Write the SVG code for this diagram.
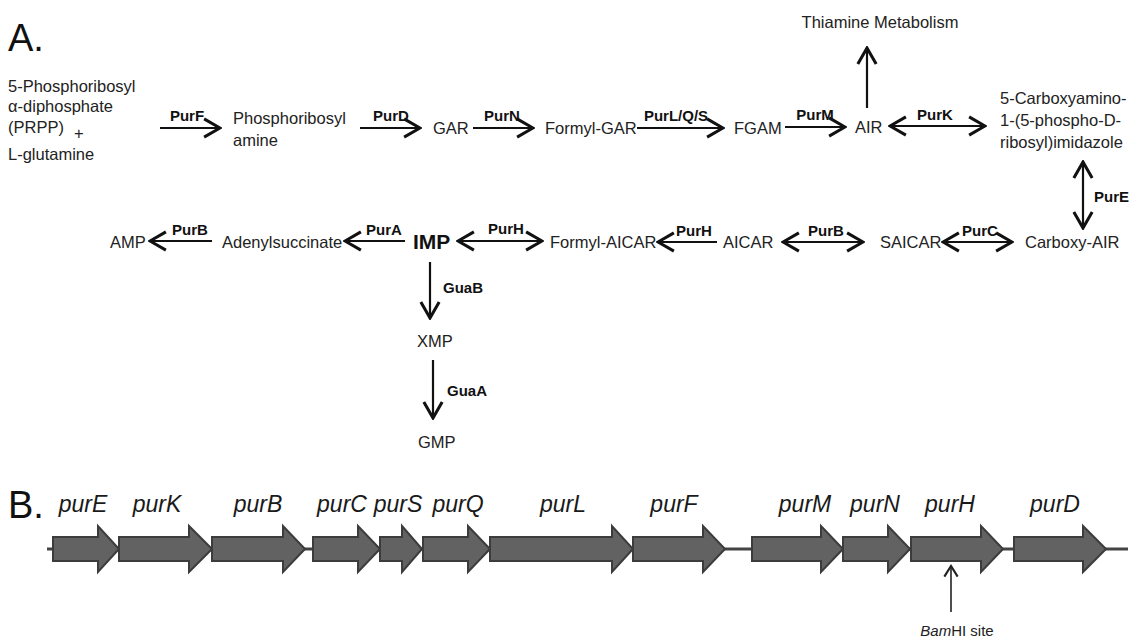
<svg xmlns="http://www.w3.org/2000/svg" width="1138" height="641" viewBox="0 0 1138 641">
<defs>
<marker id="ah" markerUnits="userSpaceOnUse" markerWidth="22" markerHeight="22" viewBox="-16 -9 18 18" refX="0" refY="0" orient="auto-start-reverse">
<path d="M-13,-7.5 L0,0 L-13,7.5" fill="none" stroke="#111" stroke-width="2.5" stroke-linejoin="miter"/>
</marker>
<marker id="ahs" markerUnits="userSpaceOnUse" markerWidth="16" markerHeight="16" viewBox="-10 -6 12 12" refX="0" refY="0" orient="auto">
<path d="M-8,-5 L0,0 L-8,5" fill="none" stroke="#222" stroke-width="1.6"/>
</marker>
</defs>
<style>
.m{font-family:"Liberation Sans",Arial,sans-serif;font-size:16.5px;fill:#222}
.e{font-family:"Liberation Sans",Arial,sans-serif;font-size:15px;font-weight:bold;fill:#111}
.big{font-family:"Liberation Sans",Arial,sans-serif;font-size:38px;fill:#111}
.g{font-family:"Liberation Sans",Arial,sans-serif;font-size:23px;font-style:italic;fill:#1a1a1a}
.a{fill:none;stroke:#111;stroke-width:2.2;marker-end:url(#ah)}
.d{fill:none;stroke:#111;stroke-width:2.2;marker-end:url(#ah);marker-start:url(#ah)}
.gene{fill:#626262;stroke:#3c3c3c;stroke-width:2;stroke-linejoin:miter}
</style>
<rect width="1138" height="641" fill="#fff"/>
<text class="big" x="8" y="51">A.</text>
<text class="big" x="8" y="518">B.</text>

<g id="connectors">
<line class="a" x1="160" y1="128" x2="220" y2="128"/>
<line class="a" x1="360" y1="128" x2="420" y2="128"/>
<line class="a" x1="473" y1="128" x2="533" y2="128"/>
<line class="a" x1="637" y1="128" x2="723" y2="128"/>
<line class="a" x1="785" y1="127" x2="845" y2="127"/>
<line class="d" x1="890" y1="126" x2="985" y2="126"/>
<line class="a" x1="867" y1="108" x2="867" y2="48"/>
<line class="d" x1="1083" y1="162" x2="1083" y2="228"/>
<line class="a" x1="212" y1="241" x2="150" y2="241"/>
<line class="a" x1="405" y1="241" x2="345" y2="241"/>
<line class="d" x1="458" y1="241" x2="542" y2="241"/>
<line class="a" x1="717" y1="242" x2="658" y2="242"/>
<line class="d" x1="783" y1="242" x2="863" y2="242"/>
<line class="d" x1="943" y1="242" x2="1012" y2="242"/>
<line class="a" x1="430" y1="262" x2="430" y2="318"/>
<line class="a" x1="433" y1="360" x2="433" y2="418"/>
<text class="e" x="187" y="121" text-anchor="middle">PurF</text>
<text class="e" x="391" y="121" text-anchor="middle">PurD</text>
<text class="e" x="502" y="121" text-anchor="middle">PurN</text>
<text class="e" x="676" y="121" text-anchor="middle">PurL/Q/S</text>
<text class="e" x="815" y="120" text-anchor="middle">PurM</text>
<text class="e" x="935" y="120" text-anchor="middle">PurK</text>
<text class="e" x="1094" y="202">PurE</text>
<text class="e" x="190" y="235" text-anchor="middle">PurB</text>
<text class="e" x="384" y="235" text-anchor="middle">PurA</text>
<text class="e" x="506" y="234" text-anchor="middle">PurH</text>
<text class="e" x="694" y="236" text-anchor="middle">PurH</text>
<text class="e" x="826" y="236" text-anchor="middle">PurB</text>
<text class="e" x="980" y="236" text-anchor="middle">PurC</text>
<text class="e" x="443" y="293">GuaB</text>
<text class="e" x="447" y="396">GuaA</text>
</g>

<g id="prpp"><text class="m" x="8" y="92">5-Phosphoribosyl</text><text class="m" x="8" y="112">α-diphosphate</text><text class="m" x="8" y="133">(PRPP)</text><text class="m" x="74" y="139">+</text><text class="m" x="8" y="160">L-glutamine</text></g>
<g id="pra"><text class="m" x="233" y="124">Phosphoribosyl</text><text class="m" x="233" y="146">amine</text></g>
<g id="gar"><text class="m" x="433" y="134">GAR</text></g>
<g id="fgar"><text class="m" x="545" y="134">Formyl-GAR</text></g>
<g id="fgam"><text class="m" x="734" y="134">FGAM</text></g>
<g id="air"><text class="m" x="855" y="133">AIR</text></g>
<g id="thiamine"><text class="m" x="880" y="28" text-anchor="middle">Thiamine Metabolism</text></g>
<g id="ncair"><text class="m" x="1000" y="104">5-Carboxyamino-</text><text class="m" x="1000" y="126">1-(5-phospho-D-</text><text class="m" x="1000" y="148">ribosyl)imidazole</text></g>
<g id="cair"><text class="m" x="1025" y="248">Carboxy-AIR</text></g>
<g id="saicar"><text class="m" x="880" y="248">SAICAR</text></g>
<g id="aicar"><text class="m" x="723" y="248">AICAR</text></g>
<g id="faicar"><text class="m" x="550" y="248">Formyl-AICAR</text></g>
<g id="imp"><text x="413" y="249" style="font-family:'Liberation Sans',Arial,sans-serif;font-size:21px;font-weight:bold;fill:#111">IMP</text></g>
<g id="adenylsuccinate"><text class="m" x="222" y="248">Adenylsuccinate</text></g>
<g id="amp"><text class="m" x="110" y="248">AMP</text></g>
<g id="xmp"><text class="m" x="417" y="347">XMP</text></g>
<g id="gmp"><text class="m" x="418" y="448">GMP</text></g>

<g id="operon">
<line x1="47" y1="549" x2="1128" y2="549" stroke="#444" stroke-width="3"/>
<g id="purE"><polygon class="gene" points="53,537 98,537 98,526 119,549 98,572 98,561 53,561"/><text class="g" x="83" y="512" text-anchor="middle">purE</text></g>
<g id="purK"><polygon class="gene" points="119,537 189,537 189,526 212,549 189,572 189,561 119,561"/><text class="g" x="157" y="512" text-anchor="middle">purK</text></g>
<g id="purB"><polygon class="gene" points="212,537 283,537 283,526 305,549 283,572 283,561 212,561"/><text class="g" x="258" y="512" text-anchor="middle">purB</text></g>
<g id="purC"><polygon class="gene" points="313,537 358,537 358,526 380,549 358,572 358,561 313,561"/><text class="g" x="342" y="512" text-anchor="middle">purC</text></g>
<g id="purS"><polygon class="gene" points="380,537 402,537 402,526 422,549 402,572 402,561 380,561"/><text class="g" x="398" y="512" text-anchor="middle">purS</text></g>
<g id="purQ"><polygon class="gene" points="423,537 468,537 468,526 490,549 468,572 468,561 423,561"/><text class="g" x="458" y="512" text-anchor="middle">purQ</text></g>
<g id="purL"><polygon class="gene" points="490,537 612,537 612,526 633,549 612,572 612,561 490,561"/><text class="g" x="563" y="512" text-anchor="middle">purL</text></g>
<g id="purF"><polygon class="gene" points="633,537 703,537 703,526 725,549 703,572 703,561 633,561"/><text class="g" x="674" y="512" text-anchor="middle">purF</text></g>
<g id="purM"><polygon class="gene" points="752,537 821,537 821,526 843,549 821,572 821,561 752,561"/><text class="g" x="805" y="512" text-anchor="middle">purM</text></g>
<g id="purN"><polygon class="gene" points="843,537 888,537 888,526 910,549 888,572 888,561 843,561"/><text class="g" x="875" y="512" text-anchor="middle">purN</text></g>
<g id="purH"><polygon class="gene" points="911,537 981,537 981,526 1003,549 981,572 981,561 911,561"/><text class="g" x="950" y="512" text-anchor="middle">purH</text></g>
<g id="purD"><polygon class="gene" points="1014,537 1083,537 1083,526 1106,549 1083,572 1083,561 1014,561"/><text class="g" x="1055" y="512" text-anchor="middle">purD</text></g>
</g>
<g id="bamhi">
<line x1="951" y1="612" x2="951" y2="566" stroke="#222" stroke-width="1.6" marker-end="url(#ahs)"/>
<text x="957" y="636" text-anchor="middle" style="font-family:'Liberation Sans',Arial,sans-serif;font-size:15px;fill:#222"><tspan font-style="italic">Bam</tspan>HI site</text>
</g>
</svg>
